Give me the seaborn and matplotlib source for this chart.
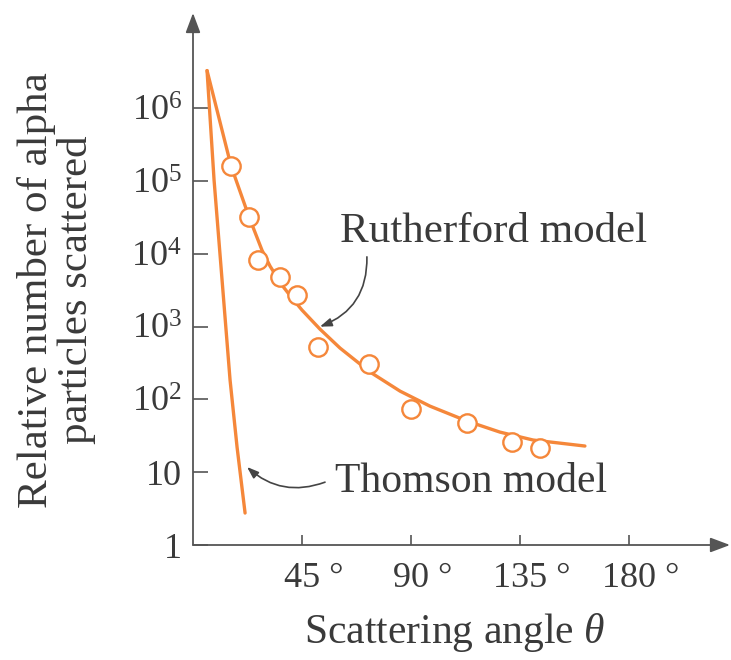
import matplotlib
matplotlib.use("Agg")
import matplotlib.pyplot as plt
import seaborn as sns
import pandas as pd
from matplotlib.transforms import ScaledTranslation

# ---------------- data ----------------
obs_angle = [15.7, 23.1, 26.8, 35.9, 42.9, 51.6, 72.7, 90.0, 113.1, 131.7, 143.3]
obs_count = [1.6e5, 3.2e4, 8.2e3, 4.8e3, 2.7e3, 525, 306, 74, 48, 26, 21.5]

rutherford_angle = [5.8, 15.7, 23.1, 28.5, 31.8, 36.7, 40.9, 45.0, 52.4, 60.7,
                    73.1, 85.5, 97.8, 113.1, 126.7, 140.4, 161.8]
rutherford_count = [3.3e6, 1.62e5, 3.24e4, 1.12e4, 6.8e3, 3.73e3, 2.47e3, 1.69e3,
                    927, 508, 238, 130, 81, 50.5, 35.6, 27.7, 22.9]

thomson_angle = [5.8, 8.7, 12.0, 15.3, 18.2, 21.5]
thomson_count = [3.3e6, 1.03e5, 4.37e3, 185, 22, 2.75]

x_ticks = [45, 90, 135, 180]
x_tick_labels = ["45 °", "90 °", "135 °", "180 °"]
y_ticks = [1, 10, 1e2, 1e3, 1e4, 1e5, 1e6]
y_tick_labels = ["1", "10", r"$\mathregular{10^{2}}$", r"$\mathregular{10^{3}}$",
                 r"$\mathregular{10^{4}}$", r"$\mathregular{10^{5}}$", r"$\mathregular{10^{6}}$"]

# ---------------- style ----------------
sns.set_style("white")
plt.rcParams["font.family"] = ["Liberation Serif", "DejaVu Serif"]
plt.rcParams["mathtext.fontset"] = "custom"
plt.rcParams["mathtext.rm"] = "Liberation Serif"
plt.rcParams["mathtext.it"] = "Liberation Serif:italic"

ORANGE = "#F5873A"
INK = "#3a3a3a"
AXC = "#555555"

fig = plt.figure(figsize=(7.31, 6.60), dpi=100)
ax = fig.add_axes([193 / 731, 115 / 660, (730 - 193) / 731, (545 - 13) / 660])

obs = pd.DataFrame({"angle": obs_angle, "count": obs_count})
ruth = pd.DataFrame({"angle": rutherford_angle, "count": rutherford_count})
thom = pd.DataFrame({"angle": thomson_angle, "count": thomson_count})

sns.lineplot(data=ruth, x="angle", y="count", sort=False, estimator=None,
             color=ORANGE, linewidth=2.4, ax=ax)
sns.lineplot(data=thom, x="angle", y="count", sort=False, estimator=None,
             color=ORANGE, linewidth=2.4, ax=ax)
sns.scatterplot(data=obs, x="angle", y="count", s=175, color="white",
                edgecolor=ORANGE, linewidth=1.7, zorder=4, ax=ax)

ax.set_yscale("log")
ax.set_xlim(0, 221.7)
ax.set_ylim(1, 10 ** 7.31)
ax.minorticks_off()

for s in ax.spines.values():
    s.set_visible(False)

# axes with arrow heads
arrow_kw = dict(arrowstyle="-|>,head_length=1.2,head_width=0.45", color=AXC,
                lw=1.3, shrinkA=0, shrinkB=0)
ax.annotate("", xy=(0, 1), xytext=(0, 0), xycoords="axes fraction",
            arrowprops=arrow_kw, annotation_clip=False)
ax.annotate("", xy=(1, 0), xytext=(0, 0), xycoords="axes fraction",
            arrowprops=arrow_kw, annotation_clip=False)

ax.set_xticks(x_ticks)
ax.set_xticklabels(x_tick_labels)
ax.set_yticks(y_ticks)
ax.set_yticklabels(y_tick_labels)
ax.tick_params(axis="y", direction="in", length=11, width=1.2, color=AXC,
               pad=8, labelsize=26, labelcolor=INK, left=True)
ax.tick_params(axis="x", direction="in", length=7, width=1.2, color=AXC,
               pad=12, labelsize=26, labelcolor=INK, bottom=True)
shift = ScaledTranslation(8.5 / 72, 0, fig.dpi_scale_trans)
for lab in ax.get_xticklabels():
    lab.set_transform(lab.get_transform() + shift)

ax.set_xlabel(r"Scattering angle $\theta$", fontsize=30, color=INK)
ax.xaxis.set_label_coords(0.488, -0.125)
ax.set_ylabel("Relative number of alpha\nparticles scattered", fontsize=31,
              color=INK, linespacing=1.05)
ax.yaxis.set_label_coords(-0.18, 0.48)

# annotations
ax.text(60.7, 1.45e4, "Rutherford model", fontsize=31, color=INK,
        ha="left", va="baseline")
ax.annotate("", xy=(52.4, 1.0e3), xytext=(71.8, 9.1e3),
            arrowprops=dict(arrowstyle="-|>,head_length=0.7,head_width=0.25",
                            color="#444444", lw=1.2, shrinkA=0, shrinkB=0,
                            connectionstyle="arc3,rad=-0.35"))
ax.text(58.6, 5.3, "Thomson model", fontsize=30, color=INK,
        ha="left", va="baseline")
ax.annotate("", xy=(22.3, 11.8), xytext=(54.5, 7.3),
            arrowprops=dict(arrowstyle="-|>,head_length=0.7,head_width=0.25",
                            color="#444444", lw=1.2, shrinkA=0, shrinkB=0,
                            connectionstyle="arc3,rad=-0.3"))

fig.savefig("out.png", dpi=100, facecolor="white")
